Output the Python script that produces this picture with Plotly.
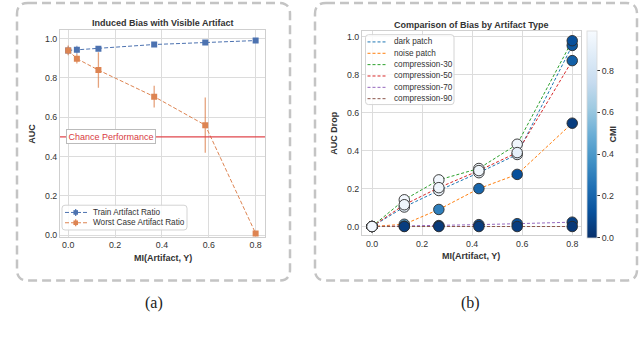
import plotly.graph_objects as go

# ---- panel (a) data ----
mi_a = [0.0, 0.037, 0.129, 0.367, 0.585, 0.8]
train_auc = [0.94, 0.943, 0.948, 0.970, 0.980, 0.990]
train_err = [0.02, 0.02, 0.006, 0.005, 0.005, 0.003]
worst_auc = [0.94, 0.898, 0.840, 0.705, 0.560, 0.010]
worst_err = [0.025, 0.025, 0.09, 0.055, 0.14, 0.004]
chance = 0.5
series_a = ["Train Artifact Ratio", "Worst Case Artifact Ratio"]
colors_a = ["#4c72b0", "#dd8452"]

# ---- panel (b) data ----
mi_b = [0.0, 0.129, 0.267, 0.427, 0.580, 0.8]
artifact_names = ["dark patch", "noise patch", "compression-30",
                  "compression-50", "compression-70", "compression-90"]
auc_drop = {
    "dark patch":     [0.0, 0.103, 0.190, 0.284, 0.380, 0.955],
    "noise patch":    [0.0, 0.012, 0.090, 0.200, 0.275, 0.545],
    "compression-30": [0.0, 0.141, 0.246, 0.306, 0.434, 0.980],
    "compression-50": [0.0, 0.115, 0.205, 0.295, 0.390, 0.875],
    "compression-70": [0.0, 0.002, 0.005, 0.010, 0.015, 0.023],
    "compression-90": [0.0, 0.000, 0.000, 0.000, 0.000, 0.000],
}
cmi = {
    "dark patch":     [0.97, 0.90, 0.93, 0.93, 0.87, 0.15],
    "noise patch":    [0.97, 0.45, 0.30, 0.20, 0.12, 0.05],
    "compression-30": [0.97, 0.97, 0.97, 0.98, 0.95, 0.12],
    "compression-50": [0.97, 0.95, 0.95, 0.96, 0.90, 0.18],
    "compression-70": [0.97, 0.10, 0.12, 0.10, 0.12, 0.06],
    "compression-90": [0.97, 0.05, 0.04, 0.05, 0.05, 0.03],
}
line_colors = ["#1f77b4", "#ff7f0e", "#2ca02c", "#d62728", "#9467bd", "#8c564b"]

W, H = 640, 346
FONT = "Liberation Sans, Arial, sans-serif"
TXT = "#333333"


def px(x):
    return x / W


def py(y):
    return 1 - y / H


def rounded_box(x0, y0, x1, y1, r=11, color="#c4c4c4", width=2.5, dash="9px,5px", fill=None):
    # rounded rectangle path in paper coords, given pixel corners
    pts = [
        f"M {px(x0 + r)},{py(y0)}",
        f"L {px(x1 - r)},{py(y0)}",
        f"Q {px(x1)},{py(y0)} {px(x1)},{py(y0 + r)}",
        f"L {px(x1)},{py(y1 - r)}",
        f"Q {px(x1)},{py(y1)} {px(x1 - r)},{py(y1)}",
        f"L {px(x0 + r)},{py(y1)}",
        f"Q {px(x0)},{py(y1)} {px(x0)},{py(y1 - r)}",
        f"L {px(x0)},{py(y0 + r)}",
        f"Q {px(x0)},{py(y0)} {px(x0 + r)},{py(y0)}",
        "Z",
    ]
    shp = dict(type="path", path=" ".join(pts), xref="paper", yref="paper",
               line=dict(color=color, width=width, dash=dash))
    if fill:
        shp["fillcolor"] = fill
    return shp


def pline(x0, y0, x1, y1, color, width=1, dash="solid"):
    return dict(type="line", xref="paper", yref="paper",
                x0=px(x0), y0=py(y0), x1=px(x1), y1=py(y1),
                line=dict(color=color, width=width, dash=dash))


def legend_label(text, x, y):
    return dict(text=text, x=px(x), y=py(y), xref="paper", yref="paper",
                xanchor="left", yanchor="middle", showarrow=False,
                font=dict(size=8.2, color=TXT))


fig = go.Figure()

# panel (a)
for name, yv, err, col, ecol in [
    (series_a[0], train_auc, train_err, colors_a[0], "rgba(76,114,176,0.6)"),
    (series_a[1], worst_auc, worst_err, colors_a[1], "rgba(221,132,82,0.75)"),
]:
    fig.add_trace(go.Scatter(
        x=mi_a, y=yv, mode="lines+markers", name=name, showlegend=False,
        line=dict(color=col, width=1, dash="4px,2px"),
        marker=dict(symbol="square", size=6, color=col),
        error_y=dict(type="data", array=err, color=ecol, thickness=1.3, width=0),
        xaxis="x", yaxis="y",
    ))

# panel (b) lines
for name, col in zip(artifact_names, line_colors):
    fig.add_trace(go.Scatter(
        x=mi_b, y=auc_drop[name], mode="lines", name=name, showlegend=False,
        line=dict(color=col, width=1, dash="3px,2px"),
        xaxis="x2", yaxis="y2",
    ))
# panel (b) markers coloured by CMI
for name in artifact_names:
    fig.add_trace(go.Scatter(
        x=mi_b, y=auc_drop[name], mode="markers", showlegend=False,
        marker=dict(size=10.5, color=cmi[name], coloraxis="coloraxis",
                    line=dict(color="#2a2a2a", width=0.9)),
        xaxis="x2", yaxis="y2",
    ))

axis_common = dict(
    showgrid=True, gridcolor="#dcdcdc", gridwidth=1,
    showline=True, linecolor="#cfcfcf", linewidth=1, mirror=True,
    zeroline=False, ticks="", tickfont=dict(size=8.8, color=TXT),
    tickformat=".1f",
)

shapes = [
    rounded_box(17, 3, 290, 283),
    rounded_box(315, 3, 637, 283),
    dict(type="line", xref="x domain", yref="y", x0=0, x1=1, y0=chance, y1=chance,
         line=dict(color="#e0474c", width=1.3)),
]
annotations = []

# legend for panel (a), drawn by hand to get matplotlib-like compact rows
shapes.append(rounded_box(62, 207, 187, 232, r=3, color="#d4d4d4", width=1,
                          dash="solid", fill="rgba(255,255,255,0.85)"))
for i, (name, col) in enumerate(zip(series_a, colors_a)):
    yy = 214.3 + i * 10.4
    shapes.append(pline(65, yy, 87, yy, col, 1, "4px,2px"))
    shapes.append(pline(75.7, yy - 3.5, 75.7, yy + 3.5, col, 1.2))
    shapes.append(dict(type="rect", xref="paper", yref="paper",
                       x0=px(73.4), x1=px(78), y0=py(yy + 2.3), y1=py(yy - 2.3),
                       fillcolor=col, line=dict(width=0)))
    annotations.append(legend_label(name, 90.5, yy))

# legend for panel (b)
shapes.append(rounded_box(365.5, 35, 454, 105.5, r=3, color="#d4d4d4", width=1,
                          dash="solid", fill="rgba(255,255,255,0.85)"))
for i, (name, col) in enumerate(zip(artifact_names, line_colors)):
    yy = 42.3 + i * 11.45
    shapes.append(pline(367.5, yy, 386.5, yy, col, 1, "3px,2px"))
    annotations.append(legend_label(name, 392, yy))

fig.update_layout(
    width=W, height=H,
    margin=dict(l=0, r=0, t=0, b=0),
    paper_bgcolor="white", plot_bgcolor="white",
    font=dict(family=FONT, color=TXT),
    showlegend=False,
    xaxis=dict(domain=[px(60), px(265)], range=[-0.035, 0.84], dtick=0.2,
               anchor="y", **axis_common),
    yaxis=dict(domain=[py(239), py(30)], range=[-0.008, 1.045], dtick=0.2,
               anchor="x", **axis_common),
    xaxis2=dict(domain=[px(362), px(581)], range=[-0.04, 0.835], dtick=0.2,
                anchor="y2", **axis_common),
    yaxis2=dict(domain=[py(237.5), py(31.5)], range=[-0.047, 1.03], dtick=0.2,
                anchor="x2", **axis_common),
    coloraxis=dict(
        colorscale="Blues_r", cmin=0, cmax=0.99,
        colorbar=dict(
            x=px(587), xanchor="left", y=py(31), yanchor="top",
            len=209 / H, lenmode="fraction", thickness=10,
            xpad=0, ypad=0,
            outlinewidth=0.8, outlinecolor="#d8d8d8",
            ticks="outside", ticklen=3, tickcolor=TXT,
            tickvals=[0, 0.2, 0.4, 0.6, 0.8], ticktext=["0.0", "0.2", "0.4", "0.6", "0.8"],
            tickfont=dict(size=8.8, color=TXT),
            title=dict(text="<b>CMI</b>", side="right", font=dict(size=9, color=TXT)),
        ),
    ),
    shapes=shapes,
)

texts = [
    dict(text="<b>Induced Bias with Visible Artifact</b>", x=px(162.5), y=py(23)),
    dict(text="<b>Comparison of Bias by Artifact Type</b>", x=px(471), y=py(25)),
    dict(text="<b>MI(Artifact, Y)</b>", x=px(162.5), y=py(260)),
    dict(text="<b>MI(Artifact, Y)</b>", x=px(471), y=py(258)),
    dict(text="<b>AUC</b>", x=px(32), y=py(135), textangle=-90),
    dict(text="<b>AUC Drop</b>", x=px(334), y=py(135), textangle=-90),
]
for t in texts:
    fig.add_annotation(xref="paper", yref="paper", showarrow=False,
                       xanchor="center", yanchor="middle",
                       font=dict(size=9, color=TXT), **t)
for t, xx in [("(a)", 154), ("(b)", 470)]:
    fig.add_annotation(text=t, x=px(xx), y=py(306), xref="paper", yref="paper",
                       showarrow=False, xanchor="center", yanchor="middle",
                       font=dict(size=16, color="#222222",
                                 family="Liberation Serif, DejaVu Serif, serif"))
for a in annotations:
    fig.add_annotation(**a)

fig.add_annotation(
    text="Chance Performance", x=-0.01, y=chance, xref="x", yref="y",
    xanchor="left", yanchor="middle", showarrow=False,
    font=dict(size=9, color="#d83a3f"),
    bgcolor="white", bordercolor="#bbbbbb", borderwidth=1, borderpad=1.5,
)

fig.write_html("out.html", config={"displayModeBar": False},
               post_script="document.body.style.margin='0';")
